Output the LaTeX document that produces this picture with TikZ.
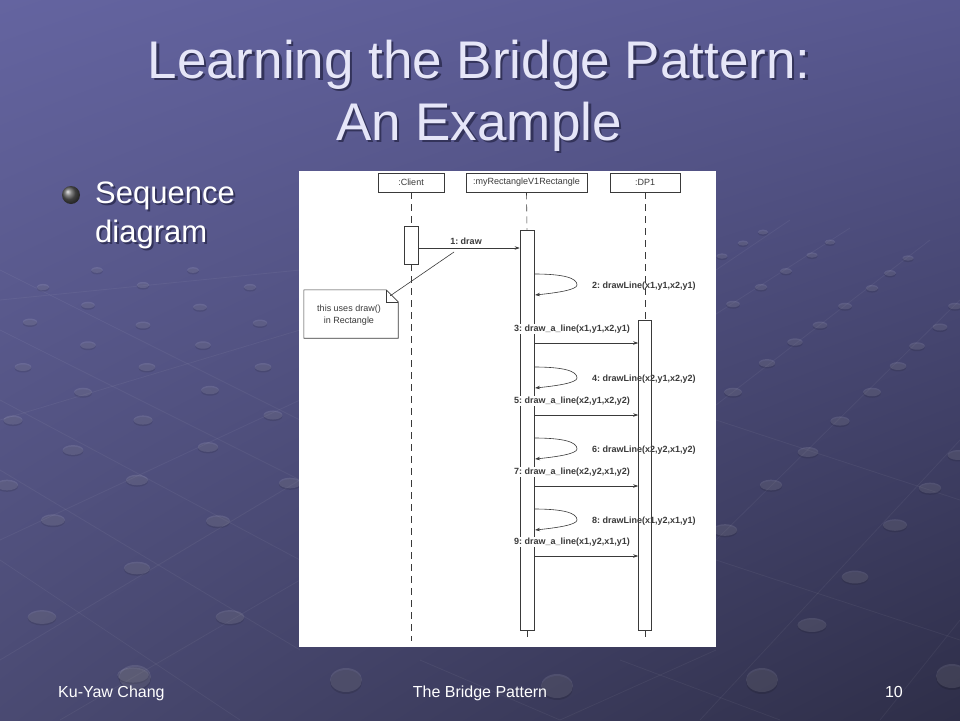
\documentclass[tikz,border=0pt]{standalone}
\usepackage{fontspec}
\setmainfont{Liberation Sans}
\usetikzlibrary{arrows.meta,calc,shadings}
\definecolor{bgTL}{HTML}{6464A0}
\definecolor{bgTR}{HTML}{585890}
\definecolor{bgBL}{HTML}{4A4A72}
\definecolor{bgBR}{HTML}{2E2E48}
\definecolor{titlec}{HTML}{E6E6F8}
\definecolor{shadowc}{HTML}{33335A}
\definecolor{lc}{HTML}{3A3A3A}
\begin{document}
\begin{tikzpicture}[x=1pt,y=-1pt,
  objbox/.style={draw=lc, line width=0.6pt, fill=white, minimum height=19pt, inner sep=0pt, font=\fontsize{9}{10}\selectfont, text=lc},
  actbox/.style={draw=lc, line width=0.6pt, fill=white, minimum width=14pt, inner sep=0pt},
  lifeline/.style={draw=lc, line width=0.6pt, dash pattern=on 7pt off 5pt},
  msg/.style={draw=lc, line width=0.6pt, -{Stealth[length=5pt,width=3.5pt]}},
  lbl/.style={font=\fontsize{9}{10}\selectfont\bfseries\frenchspacing, text=lc, inner sep=0pt},
  ttl/.style={font=\fontsize{53}{60}\selectfont, anchor=base, inner sep=0pt, text=titlec},
  bodytxt/.style={font=\fontsize{31}{36}\selectfont, anchor=base west, inner sep=0pt, text=white},
  foot/.style={font=\fontsize{16}{18}\selectfont, text=white, anchor=base, inner sep=0pt},
  deco/.style={draw=white, opacity=0.05, line width=0.8pt}
]
\newcommand{\shadowed}[3]{\rlap{\raisebox{-#1}{\hspace*{#1}\textcolor{#2}{#3}}}#3}
\useasboundingbox (0,0) rectangle (960,720);
% background
\shade[upper left=bgTL, upper right=bgTR, lower left=bgBL, lower right=bgBR] (0,0) rectangle (960,720);
% decorative grid lines
\draw[deco] (0,270) -- (300,420);
\draw[deco] (0,330) -- (300,480);
\draw[deco] (0,400) -- (300,560);
\draw[deco] (0,470) -- (300,650);
\draw[deco] (0,560) -- (240,720);
\draw[deco] (0,300) -- (300,270);
\draw[deco] (0,420) -- (300,330);
\draw[deco] (0,540) -- (300,400);
\draw[deco] (0,660) -- (300,480);
\draw[deco] (60,720) -- (300,580);
\draw[deco] (716,270) -- (790,220);
\draw[deco] (716,314) -- (850,228);
\draw[deco] (716,405) -- (930,240);
\draw[deco] (716,540) -- (960,300);
\draw[deco] (700,720) -- (960,440);
\draw[deco] (880,720) -- (960,620);
\draw[deco] (716,420) -- (960,500);
\draw[deco] (716,560) -- (960,640);
\draw[deco] (560,720) -- (716,650);
\draw[deco] (420,660) -- (560,720);
\draw[deco] (620,660) -- (780,720);
% decorative bumps
\foreach \px/\py in {43/287,97/270,143/285,193/270,250/287,
  30/322,88/305,143/325,200/307,260/323,
  23/367,88/345,147/367,203/345,263/367,
  83/392,210/390,13/420,143/420,273/415,
  73/450,208/447,7/485,137/480,290/483,
  53/520,218/521,137/568,42/617,230/617,133/675,
  763/232,743/243,722/256,
  830/242,812/255,786/271,761/287,733/304,
  908/258,890/273,872/288,845/306,820/325,795/342,767/363,733/392,
  955/306,940/327,917/346,898/366,872/392,840/421,808/452,771/485,725/530,
  958/455,930/488,895/525,855/577,812/625}
{
  \pgfmathsetmacro{\rx}{5+0.024*(\py-230)}
  \pgfmathsetmacro{\ry}{0.48*\rx}
  \fill[black, opacity=0.10] (\px,\py+1.5) ellipse ({\rx} and {\ry});
  \fill[white, opacity=0.11] (\px,\py) ellipse ({\rx} and {\ry});
}
\foreach \px/\py in {135/677,346/680,557/686,762/680,952/676}
{
  \fill[black, opacity=0.12] (\px,\py+2) ellipse (16 and 12);
  \fill[white, opacity=0.10] (\px,\py) ellipse (16 and 12);
}
% title
\node[ttl] (title1) at (479,78) {\shadowed{2.5pt}{shadowc}{Learning the Bridge Pattern:}};
\node[ttl] (title2) at (479,140) {\shadowed{2.5pt}{shadowc}{An Example}};
% bullet
\shade[ball color=gray!70!black] (71,195) circle (9);
\node[bodytxt] (b1) at (95,203) {\shadowed{2pt}{shadowc}{Sequence}};
\node[bodytxt] (b2) at (95,242) {\shadowed{2pt}{shadowc}{diagram}};
% footer
\node[foot, anchor=base west] (f1) at (58,697) {Ku-Yaw Chang};
\node[foot] (f2) at (480,697) {The Bridge Pattern};
\node[foot, anchor=base east] (f3) at (903,697) {10};
% diagram panel
\fill[white] (299,171) rectangle (716,647);
% object boxes
\node[objbox, minimum width=66pt] (client) at (411,182.5) {:Client};
\node[objbox, minimum width=121pt] (rect) at (526.5,182.5) {:myRectangleV1Rectangle};
\node[objbox, minimum width=70pt] (dp) at (645,182.5) {:DP1};
% activations
\node[actbox, minimum height=38pt] (ca) at (411,245) {};
\node[actbox, minimum height=400pt] (ra) at (527,430) {};
\node[actbox, minimum width=13pt, minimum height=310pt] (da) at (645,475) {};
% lifeline ends
\coordinate (cend) at (411,641);
\coordinate (rend) at (527,641);
\coordinate (dend) at (645,641);
\draw[lifeline] (client.south) -- (ca.north);
\draw[lifeline] (ca.south) -- (cend);
\draw[lifeline] (rect.south) -- (ra.north);
\draw[lifeline] (ra.south) -- (rend);
\draw[lifeline] (dp.south) -- (da.north);
\draw[lifeline] (da.south) -- (dend);
% message 1
\coordinate (m1) at (0,248);
\draw[msg] (ca.east |- m1) -- (ra.west |- m1);
\node[lbl] (l1) at (466,241) {1: draw};
% note
\node[minimum width=94pt, minimum height=48pt, inner sep=0pt] (note) at (351,314) {};
\draw[draw=lc, line width=0.6pt, fill=white]
  (note.north west) -- ([xshift=-12pt]note.north east) -- ([yshift=-12pt]note.north east)
  -- (note.south east) -- (note.south west) -- cycle;
\draw[draw=lc, line width=0.6pt] ([xshift=-12pt]note.north east) -- ([xshift=-12pt,yshift=-12pt]note.north east) -- ([yshift=-12pt]note.north east);
\node[inner sep=0pt, align=center, font=\fontsize{9}{12}\selectfont, text=lc] (notetext) at ([xshift=-2pt,yshift=-1pt]note.center) {this uses draw()\\in Rectangle};
\coordinate (nc) at (454,252);
\draw[draw=lc, line width=0.6pt] ([xshift=-8pt,yshift=-6pt]note.north east) -- (nc);
% self calls and calls
\foreach \i/\ys/\ya/\sl/\cl in {
  2/274/343/{2: drawLine(x1,y1,x2,y1)}/{3: draw\_a\_line(x1,y1,x2,y1)},
  4/367/415/{4: drawLine(x2,y1,x2,y2)}/{5: draw\_a\_line(x2,y1,x2,y2)},
  6/438/486/{6: drawLine(x2,y2,x1,y2)}/{7: draw\_a\_line(x2,y2,x1,y2)},
  8/509/556/{8: drawLine(x1,y2,x1,y1)}/{9: draw\_a\_line(x1,y2,x1,y1)}}
{
  \coordinate (s\i) at (534,\ys);
  \coordinate (t\i) at (577,\ys+11);
  \coordinate (e\i) at (535,\ys+21);
  \draw[msg] (s\i) .. controls ($(s\i)+(30,0)$) and ($(t\i)+(0,-7)$) .. (t\i)
     .. controls ($(t\i)+(0,5)$) and ($(e\i)+(20,-2)$) .. (e\i);
  \node[lbl, anchor=west] (sl\i) at (592,\ys+12) {\sl};
  \coordinate (a\i) at (0,\ya);
  \draw[msg] (ra.east |- a\i) -- (da.west |- a\i);
  \node[lbl, fill=white, inner sep=1pt] (cl\i) at (572,\ya-14) {\cl};
}
\end{tikzpicture}
\end{document}
